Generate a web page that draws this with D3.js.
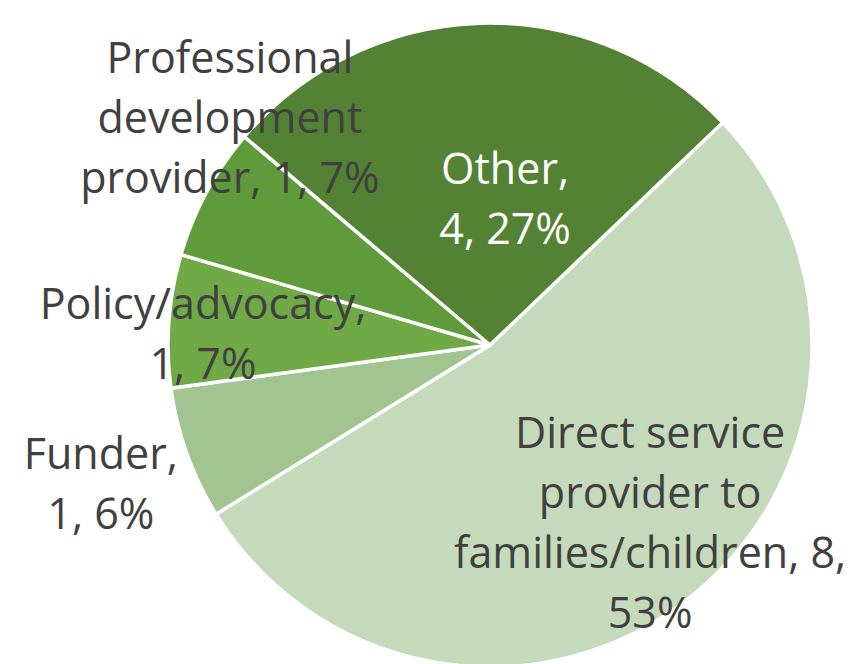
<!DOCTYPE html>
<html>
<head>
<meta charset="utf-8">
<script src="https://cdn.jsdelivr.net/npm/d3@7"></script>
<style>
  html, body { margin: 0; padding: 0; background: #fff; }
  svg { display: block; }
</style>
</head>
<body>
<div id="chart"></div>
<script>
// slices, clockwise from the Direct/Other boundary
var categories = ["Direct service provider to families/children", "Funder", "Policy/advocacy", "Professional development provider", "Other"];
var counts = [8, 1, 1, 1, 4];
var percents = ["53%", "6%", "7%", "7%", "27%"];
var colors = ["#c5d9bb", "#a2c490", "#6faa46", "#5f9a3b", "#548235"];

// label lines as they wrap in the picture
var labelLines = [
  ["Direct service", "provider to", "families/children, 8,", "53%"],
  ["Funder,", "1, 6%"],
  ["Policy/advocacy,", "1, 7%"],
  ["Professional", "development", "provider, 1, 7%"],
  ["Other,", "4, 27%"]
];
// label placement: angle (deg clockwise from 12 o'clock) and distance as fraction of radius
var labelAngle = [138, 250.4, 272.2, 311.1, 5.9];
var labelRadius = [0.743, 1.283, 0.892, 1.072, 0.456];
var labelColor = ["#404040", "#404040", "#404040", "#404040", "#ffffff"];

var width = 861, height = 664;
var cx = 490, cy = 345, radius = 322;
var startDeg = 46.3;
var lineHeight = 60;

var svg = d3.select("#chart").append("svg")
    .attr("width", width)
    .attr("height", height);

var g = svg.append("g")
    .attr("transform", "translate(" + cx + "," + cy + ")");

var pie = d3.pie()
    .sort(null)
    .value(function(d) { return d; })
    .startAngle(startDeg * Math.PI / 180)
    .endAngle((startDeg + 360) * Math.PI / 180);

var arc = d3.arc()
    .innerRadius(0)
    .outerRadius(radius);

var arcs = pie(counts);

g.selectAll("path.slice")
    .data(arcs)
  .enter().append("path")
    .attr("class", "slice")
    .attr("d", arc)
    .attr("fill", function(d, i) { return colors[i]; })
    .attr("stroke", "#ffffff")
    .attr("stroke-width", 3.5)
    .attr("stroke-linejoin", "round");

// labels
var labels = g.selectAll("text.label")
    .data(arcs)
  .enter().append("text")
    .attr("class", "label")
    .attr("text-anchor", "middle")
    .attr("font-family", "'Open Sans', sans-serif")
    .attr("font-size", 43)
    .attr("fill", function(d, i) { return labelColor[i]; })
    .attr("transform", function(d, i) {
      var a = labelAngle[i] * Math.PI / 180;
      var r = labelRadius[i] * radius;
      return "translate(" + (Math.sin(a) * r) + "," + (-Math.cos(a) * r) + ")";
    });

labels.each(function(d, i) {
  var lines = labelLines[i];
  var n = lines.length;
  d3.select(this).selectAll("tspan")
      .data(lines)
    .enter().append("tspan")
      .attr("x", 0)
      .attr("y", function(t, j) { return (j - (n - 1) / 2) * lineHeight + 15; })
      .text(function(t) { return t; });
});
</script>
</body>
</html>
